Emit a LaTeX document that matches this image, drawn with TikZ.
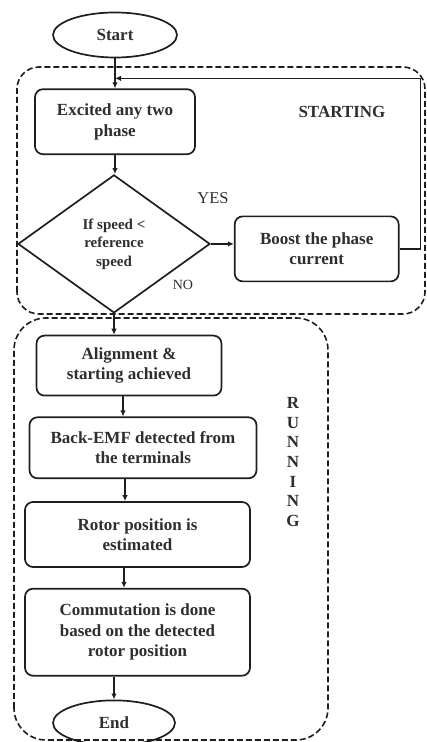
\documentclass[tikz,border=0pt]{standalone}
\usepackage{fontspec}
\setmainfont{Liberation Serif}
\usepackage{xcolor}
\usepackage{tikz}
\usetikzlibrary{shapes.geometric, arrows.meta, positioning}
\definecolor{inkgray}{HTML}{1E1E1E}
\definecolor{textgray}{HTML}{2E2E2E}

\begin{document}
\begin{tikzpicture}[
    x=1pt, y=1pt,
    node distance=20pt and 23pt,
    terminal/.style={
        draw=inkgray, line width=1.7pt, ellipse,
        inner sep=0pt, minimum width=124pt, minimum height=45pt,
        font=\fontsize{17}{20.5}\selectfont\bfseries, text=textgray,
    },
    process/.style={
        draw=inkgray, line width=1.7pt,
        rectangle, rounded corners=8pt,
        inner sep=4pt, align=center,
        font=\fontsize{17}{20.5}\selectfont\bfseries, text=textgray,
    },
    decision/.style={
        draw=inkgray, line width=1.7pt,
        diamond, aspect=1.4, inner sep=0pt,
        minimum width=192pt, minimum height=138pt, align=center,
        font=\fontsize{15}{18.5}\selectfont\bfseries, text=textgray,
    },
    region/.style={draw=inkgray, line width=1.6pt, dash pattern=on 6pt off 3pt},
    flow/.style={draw=inkgray, line width=1.4pt, -{Latex[length=6pt,width=5.5pt]}},
    tag/.style={text=textgray, inner sep=0pt},
]
\useasboundingbox (0,0) rectangle (427,742);

% Regions
\draw[region, rounded corners=22pt] (17,428) rectangle (425,675);
\draw[region, rounded corners=32pt] (14,2) rectangle (328,424);

% Starting phase
\node[terminal] (start) at (115,707) {Start};
\node[process, below=30pt of start, minimum width=160pt, minimum height=65pt] (excited) {Excited any two\\phase};
\node[decision, below=19pt of excited, xshift=-1pt] (dia) {If speed <\\reference\\speed};
\node[process, right=23pt of dia, yshift=-5pt, minimum width=164pt, minimum height=65pt] (boost) {Boost the phase\\current};

% Running phase
\node[process, below=21pt of dia, xshift=15pt, minimum width=185pt, minimum height=60pt] (align) {Alignment \&\\starting achieved};
\node[process, below=20pt of align, xshift=14pt, minimum width=227pt, minimum height=61pt] (back) {Back-EMF detected from\\the terminals};
\node[process, below=22pt of back, xshift=-5.5pt, minimum width=225pt, minimum height=65pt] (rotor) {Rotor position is\\estimated};
\node[process, below=20pt of rotor, minimum width=225pt, minimum height=87pt] (comm) {Commutation is done\\based on the detected\\rotor position};
\node[terminal, below=23pt of comm, xshift=-23.5pt, minimum width=122pt] (finish) {End};

% Labels
\node[tag, font=\fontsize{17}{20}\selectfont\bfseries] (startlbl) at (342,630) {STARTING};
\node[tag, font=\fontsize{17}{19.7}\selectfont\bfseries, align=center] (runlbl) at (293,280) {R\\U\\N\\N\\I\\N\\G};
\node[tag, font=\fontsize{16.5}{18}\selectfont] (yes) at (213,544) {YES};
\node[tag, font=\fontsize{14}{16}\selectfont] (no) at (183,457) {NO};

% Connectors
\coordinate (join) at ([yshift=10pt]excited.north);
\draw[flow] (start) -- (excited);
\draw[flow] (boost.east) -- ++(21,0) |- (join);
\draw[flow] (excited.south) -- (excited.south |- dia.north);
\draw[flow] (dia.east) -- (dia.east -| boost.west);
\draw[flow] (dia.south) -- (dia.south |- align.north);
\draw[flow] ([xshift=-6pt]align.south) -- ([xshift=-6pt]align.south |- back.north);
\draw[flow] ([xshift=-18pt]back.south) -- ([xshift=-18pt]back.south |- rotor.north);
\draw[flow] ([xshift=-13.5pt]rotor.south) -- ([xshift=-13.5pt]rotor.south |- comm.north);
\draw[flow] (finish.north |- comm.south) -- (finish.north);

\end{tikzpicture}
\end{document}
